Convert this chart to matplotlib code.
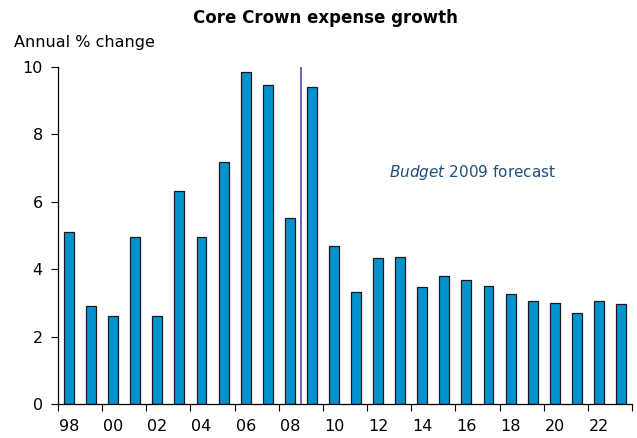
import numpy as np
import matplotlib.pyplot as plt

# Data
years = ["98", "99", "00", "01", "02", "03", "04", "05", "06", "07", "08", "09", "10",
         "11", "12", "13", "14", "15", "16", "17", "18", "19", "20", "21", "22", "23"]
growth = [5.1, 2.9, 2.6, 4.95, 2.6, 6.33, 4.96, 7.17, 9.85, 9.47, 5.52, 9.4, 4.69,
          3.32, 4.33, 4.37, 3.46, 3.8, 3.68, 3.5, 3.26, 3.06, 3.0, 2.7, 3.06, 2.97]
yticks = [0, 2, 4, 6, 8, 10]
forecast_start = "09"

plt.rcParams["font.family"] = ["Verdana", "DejaVu Sans"]

fig = plt.figure(figsize=(6.37, 4.38), dpi=100)
ax = fig.add_axes([58 / 637, 34 / 438, 574 / 637, 337 / 438])

x = np.arange(len(years))
ax.bar(x, growth, width=0.45, color="#0093d0", edgecolor="#1a1a1a", linewidth=0.9, zorder=2)

# forecast divider
fx = years.index(forecast_start) - 0.5
ax.axvline(fx, color="#4b4bb0", linewidth=1.2, zorder=3)
ax.text(0.723, 0.688, r"$\it{Budget}$ 2009 forecast", transform=ax.transAxes,
        color="#1f4e79", fontsize=11, ha="center", va="center")

ax.set_xlim(-0.5, len(years) - 0.5)
ax.set_ylim(0, 10)
ax.set_yticks(yticks)
ax.set_yticklabels([str(t) for t in yticks], fontsize=11.5)

# labels under every second bar, ticks at pair boundaries
ax.set_xticks(x[::2])
ax.set_xticklabels(years[::2], fontsize=11.5)
ax.tick_params(axis="x", length=0, pad=11)
ax.set_xticks(np.arange(-0.5, len(years), 2), minor=True)
ax.tick_params(axis="x", which="minor", length=5, direction="out", width=0.8)
ax.tick_params(axis="y", length=5, width=0.8, pad=6)

for s in ["top", "right"]:
    ax.spines[s].set_visible(False)
for s in ["left", "bottom"]:
    ax.spines[s].set_linewidth(0.9)

fig.text(325 / 637, 1 - 18 / 438, "Core Crown expense growth", ha="center", va="center",
         fontsize=12, fontweight="bold")
fig.text(14 / 637, 1 - 42 / 438, "Annual % change", ha="left", va="center", fontsize=11.5)

fig.savefig("out.png", dpi=100)
